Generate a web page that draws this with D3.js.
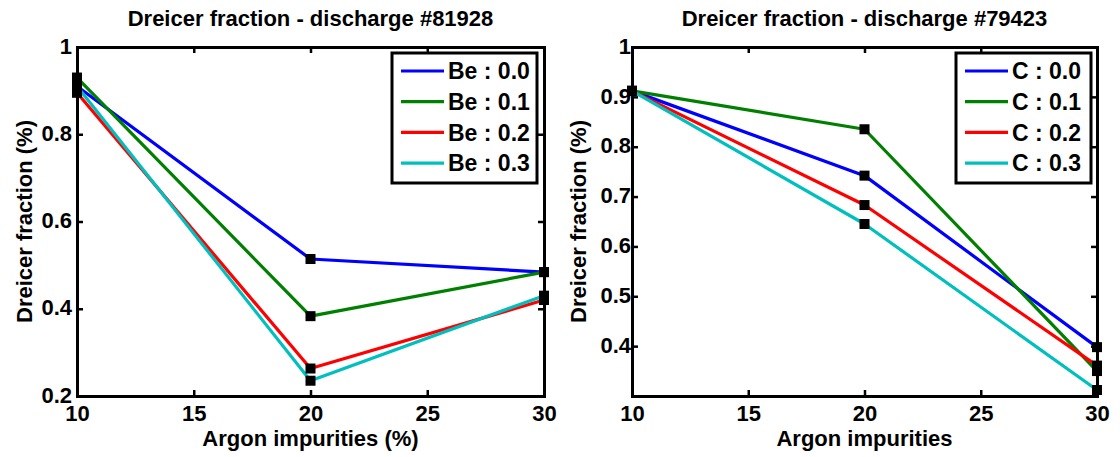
<!DOCTYPE html>
<html><head><meta charset="utf-8">
<script src="https://cdn.jsdelivr.net/npm/d3@7"></script>
<style>body{margin:0;background:#fff}svg{display:block}text{font-family:"Liberation Sans",Arial,sans-serif;font-weight:bold;fill:#000}</style>
</head><body><svg id="c" width="1120" height="457"></svg>
<script>
// ---- data ----
const argon = [10, 20, 30];
const seriesColors = ["#0000ff", "#008000", "#ff0000", "#00bfbf"];
const leftTitle = "Dreicer fraction - discharge #81928";
const leftLabels = ["Be : 0.0", "Be : 0.1", "Be : 0.2", "Be : 0.3"];
const left00 = [0.91, 0.514, 0.484];
const left01 = [0.93, 0.383, 0.484];
const left02 = [0.895, 0.263, 0.42];
const left03 = [0.91, 0.235, 0.43];
const leftYTicks = [0.2, 0.4, 0.6, 0.8, 1];
const leftYTickLabels = ["0.2", "0.4", "0.6", "0.8", "1"];
const leftXLabel = "Argon impurities (%)";

const rightTitle = "Dreicer fraction - discharge #79423";
const rightLabels = ["C : 0.0", "C : 0.1", "C : 0.2", "C : 0.3"];
const right00 = [0.912, 0.742, 0.398];
const right01 = [0.912, 0.835, 0.35];
const right02 = [0.912, 0.683, 0.361];
const right03 = [0.912, 0.645, 0.312];
const rightYTicks = [0.4, 0.5, 0.6, 0.7, 0.8, 0.9, 1];
const rightYTickLabels = ["0.4", "0.5", "0.6", "0.7", "0.8", "0.9", "1"];
const rightXLabel = "Argon impurities";

const xTicks = [10, 15, 20, 25, 30];
const yLabel = "Dreicer fraction (%)";

const svg = d3.select("#c");

function panel(cfg) {
  const x = d3.scaleLinear().domain([10, 30]).range([cfg.x0, cfg.x1]);
  const y = d3.scaleLinear().domain(cfg.yDomain).range([cfg.y1, cfg.y0]);
  const g = svg.append("g");
  const line = d3.line().x((d, i) => x(argon[i])).y(d => y(d));
  cfg.series.forEach((s, k) => {
    g.append("path").attr("d", line(s)).attr("fill", "none")
      .attr("stroke", seriesColors[k]).attr("stroke-width", 3.2).attr("stroke-linejoin", "round");
  });
  cfg.series.forEach(s => {
    s.forEach((v, i) => {
      g.append("rect").attr("x", x(argon[i]) - 5).attr("y", y(v) - 5)
        .attr("width", 10).attr("height", 10).attr("fill", "#000");
    });
  });
  // axes (box with inward ticks)
  const tl = 6;
  const axB = d3.axisBottom(x).tickValues(xTicks).tickSizeInner(-tl).tickSizeOuter(0).tickPadding(9).tickFormat(d3.format("d"));
  const axT = d3.axisTop(x).tickValues(xTicks).tickSizeInner(-tl).tickSizeOuter(0).tickFormat("");
  const axL = d3.axisLeft(y).tickValues(cfg.yTicks).tickSizeInner(-tl).tickSizeOuter(0).tickPadding(cfg.yPad)
    .tickFormat((d, i) => cfg.yTickLabels[i]);
  const axR = d3.axisRight(y).tickValues(cfg.yTicks).tickSizeInner(-tl).tickSizeOuter(0).tickFormat("");
  const styleAx = sel => {
    sel.attr("font-size", 22).attr("font-family", null);
    sel.selectAll("path").attr("stroke", "#000").attr("stroke-width", 3);
    sel.selectAll("line").attr("stroke", "#000").attr("stroke-width", 2.5);
    sel.selectAll("text").style("font-size", "22px").attr("fill", "#000");
  };
  g.append("g").attr("transform", `translate(0,${cfg.y1})`).call(axB).call(styleAx);
  g.append("g").attr("transform", `translate(0,${cfg.y0})`).call(axT).call(styleAx);
  const gl = g.append("g").attr("transform", `translate(${cfg.x0},0)`).call(axL).call(styleAx);
  gl.selectAll(".tick text").attr("dy", "0.28em");
  g.append("g").attr("transform", `translate(${cfg.x1},0)`).call(axR).call(styleAx);
  g.selectAll(".domain").attr("stroke-linecap", "square");
  // title and labels
  const cx = (cfg.x0 + cfg.x1) / 2;
  svg.append("text").attr("x", cx).attr("y", 26).attr("text-anchor", "middle").style("font-size", "22px").text(cfg.title);
  svg.append("text").attr("x", cx).attr("y", 446).attr("text-anchor", "middle").style("font-size", "22px").text(cfg.xLabel);
  svg.append("text").attr("transform", `translate(${cfg.yLabelX},${(cfg.y0 + cfg.y1) / 2}) rotate(-90)`)
    .attr("text-anchor", "middle").attr("dy", "0.35em").style("font-size", "22px").text(yLabel);
  // legend
  const lg = svg.append("g");
  lg.append("rect").attr("x", cfg.lx).attr("y", 53).attr("width", cfg.lw).attr("height", 130)
    .attr("fill", "#fff").attr("stroke", "#000").attr("stroke-width", 3);
  cfg.labels.forEach((lab, k) => {
    const yy = 71 + k * 30.7;
    lg.append("line").attr("x1", cfg.lx + 9).attr("x2", cfg.lx + 52).attr("y1", yy).attr("y2", yy)
      .attr("stroke", seriesColors[k]).attr("stroke-width", 3.2);
    lg.append("text").attr("x", cfg.lx + 56).attr("y", yy).attr("dy", "0.36em").style("font-size", "23px").text(lab);
  });
}

panel({x0: 77, x1: 544, y0: 47, y1: 396, yDomain: [0.2, 1], yTicks: leftYTicks, yTickLabels: leftYTickLabels, yPad: 5,
  series: [left00, left01, left02, left03], title: leftTitle, xLabel: leftXLabel, labels: leftLabels,
  lx: 392, lw: 145, yLabelX: 24});
panel({x0: 632, x1: 1097, y0: 47, y1: 396, yDomain: [0.3, 1], yTicks: rightYTicks, yTickLabels: rightYTickLabels, yPad: 1,
  series: [right00, right01, right02, right03], title: rightTitle, xLabel: rightXLabel, labels: rightLabels,
  lx: 956, lw: 135, yLabelX: 578});
</script></body></html>
